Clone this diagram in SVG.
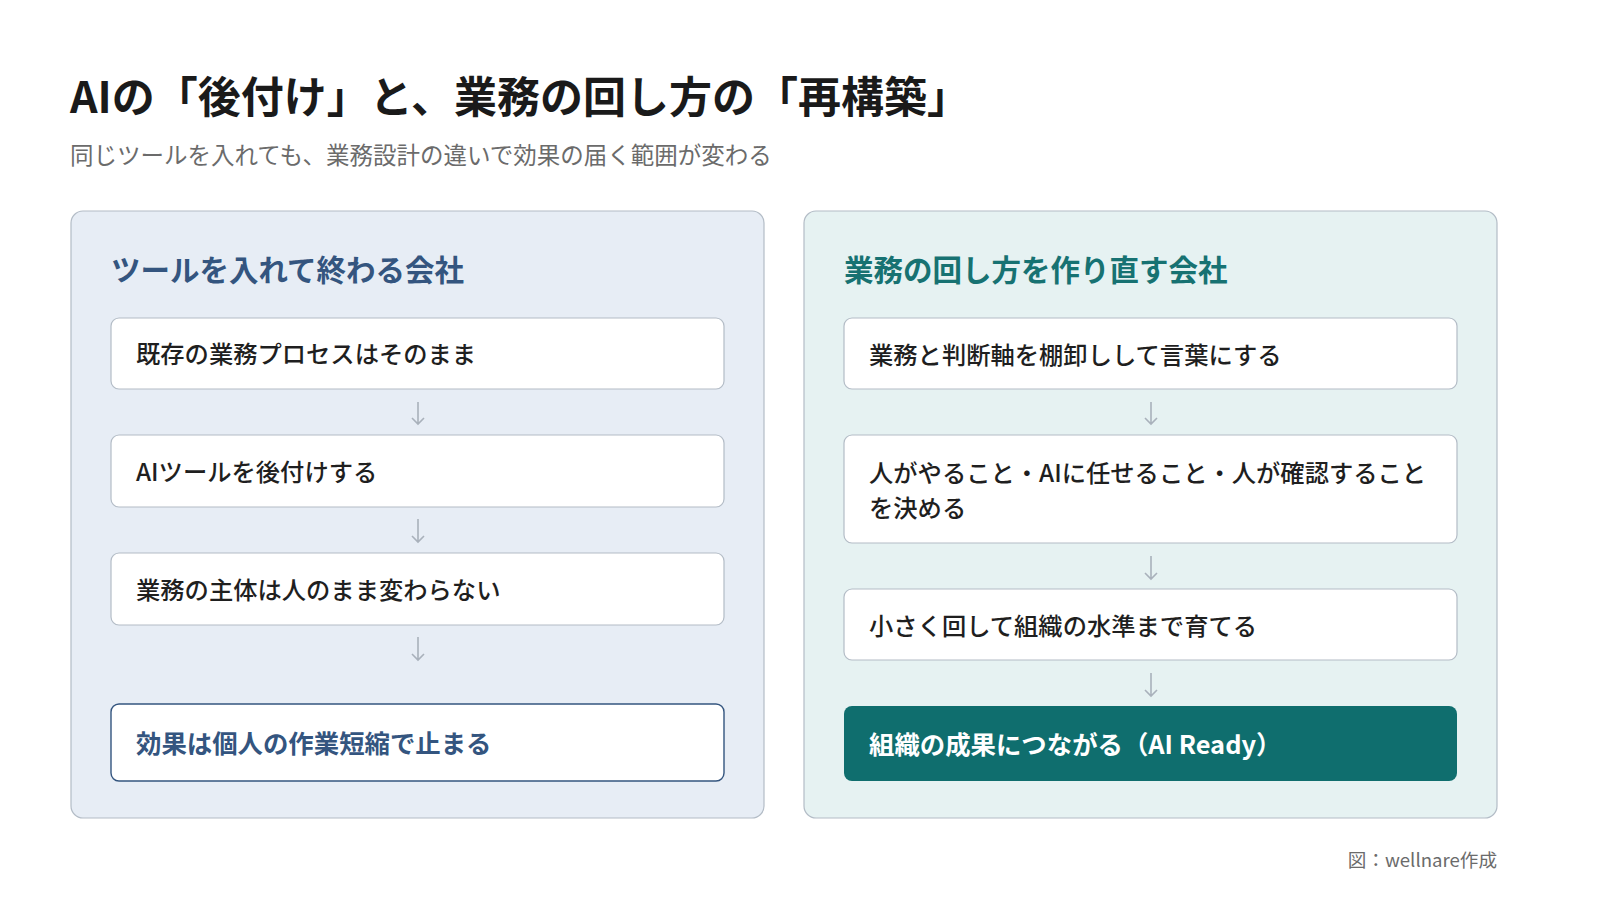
<svg xmlns="http://www.w3.org/2000/svg" width="1600" height="900" viewBox="0 0 1600 900">
<style>
text{font-family:"Noto Sans CJK JP","Noto Sans",sans-serif}
.title{font-size:43px;font-weight:700;fill:#1a1a1a}
.sub{font-size:23.5px;fill:#6b6b6b}
.ph{font-size:29.5px;font-weight:700}
.box{fill:#ffffff;stroke:#b3bcc6;stroke-width:1.2}
.bt{font-size:24.3px;font-weight:500;fill:#1f1f1f}
.arr{stroke:#a9b1bb;stroke-width:1.6;fill:none}
</style>
<rect width="1600" height="900" fill="#ffffff"/>
<text class="title" x="70" y="113">AIの「後付け」と、業務の回し方の「再構築」</text>
<text class="sub" x="70" y="164">同じツールを入れても、業務設計の違いで効果の届く範囲が変わる</text>

<g id="left-panel">
<rect x="71" y="211" width="693" height="607" rx="12" fill="#e7edf5" stroke="#b3bcc6" stroke-width="1.2"/>
<text class="ph" x="111" y="281" fill="#34557f">ツールを入れて終わる会社</text>
</g>
<g id="l1"><rect class="box" x="111" y="318" width="613" height="71" rx="8"/><text class="bt" x="136" y="363">既存の業務プロセスはそのまま</text></g>
<g id="l2"><rect class="box" x="111" y="435" width="613" height="72" rx="8"/><text class="bt" x="136" y="481">AIツールを後付けする</text></g>
<g id="l3"><rect class="box" x="111" y="553" width="613" height="72" rx="8"/><text class="bt" x="136" y="599">業務の主体は人のまま変わらない</text></g>
<g id="l4"><rect x="111" y="704" width="613" height="77" rx="8" fill="#ffffff" stroke="#34557f" stroke-width="1.4"/><text x="136" y="753" font-size="25.4" font-weight="700" fill="#34557f">効果は個人の作業短縮で止まる</text></g>

<g id="right-panel">
<rect x="804" y="211" width="693" height="607" rx="12" fill="#e6f2f2" stroke="#b3bcc6" stroke-width="1.2"/>
<text class="ph" x="844" y="281" fill="#177272">業務の回し方を作り直す会社</text>
</g>
<g id="r1"><rect class="box" x="844" y="318" width="613" height="71" rx="8"/><text class="bt" x="869" y="364">業務と判断軸を棚卸しして言葉にする</text></g>
<g id="r2"><rect class="box" x="844" y="435" width="613" height="108" rx="8"/><text class="bt" x="869" y="482">人がやること・AIに任せること・人が確認すること</text><text class="bt" x="869" y="517">を決める</text></g>
<g id="r3"><rect class="box" x="844" y="589" width="613" height="71" rx="8"/><text class="bt" x="869" y="635">小さく回して組織の水準まで育てる</text></g>
<g id="r4"><rect x="844" y="706" width="613" height="75" rx="8" fill="#0f6e6e"/><text x="869" y="754" font-size="25.4" font-weight="700" fill="#ffffff">組織の成果につながる（AI Ready）</text></g>

<g id="connectors">
<path class="arr" d="M418 402V424M412 418L418 424L424 418"/>
<path class="arr" d="M418 519V542M412 536L418 542L424 536"/>
<path class="arr" d="M418 637V660M412 654L418 660L424 654"/>
<path class="arr" d="M1151 402V424M1145 418L1151 424L1157 418"/>
<path class="arr" d="M1151 556V579M1145 573L1151 579L1157 573"/>
<path class="arr" d="M1151 673V696M1145 690L1151 696L1157 690"/>
</g>

<text x="1497" y="867" font-size="18.6" fill="#6b6b6b" text-anchor="end">図：wellnare作成</text>
</svg>
